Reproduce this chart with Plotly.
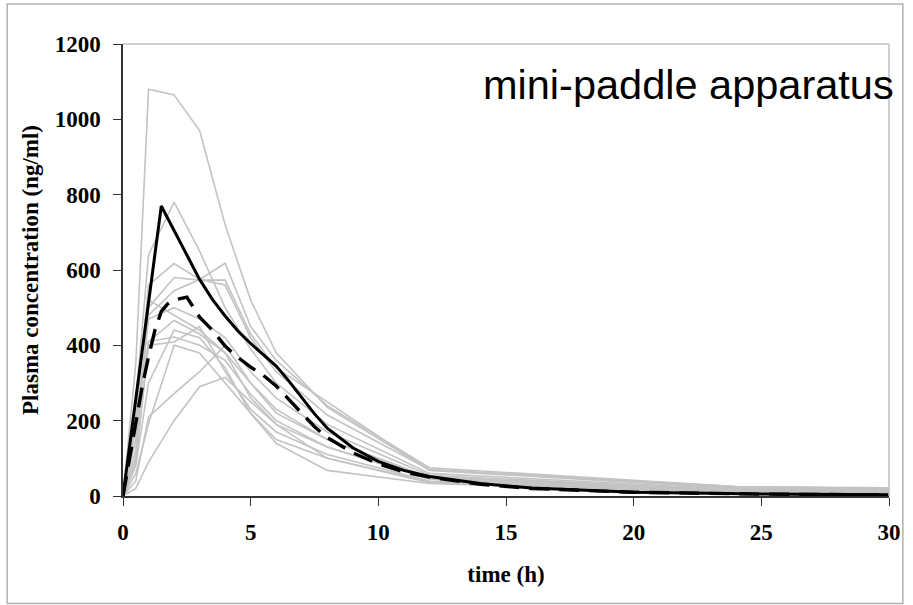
import plotly.graph_objects as go

# ---- data ----
t_ind = [0, 0.5, 1, 2, 3, 4, 5, 6, 8, 12, 24, 30]
subjects = [
    [0, 350, 1080, 1065, 970, 720, 520, 380, 235, 70, 25, 20],
    [0, 250, 640, 780, 650, 500, 390, 300, 190, 60, 18, 15],
    [0, 200, 560, 617, 575, 560, 420, 330, 215, 70, 22, 18],
    [0, 150, 480, 545, 575, 618, 450, 360, 240, 75, 25, 22],
    [0, 120, 500, 580, 573, 573, 430, 340, 250, 68, 20, 16],
    [0, 180, 470, 500, 470, 420, 330, 260, 170, 55, 15, 12],
    [0, 100, 410, 466, 430, 380, 300, 230, 150, 50, 15, 12],
    [0, 200, 410, 422, 400, 360, 270, 200, 130, 45, 12, 10],
    [0, 90, 400, 409, 450, 330, 230, 170, 110, 40, 10, 8],
    [0, 60, 192, 400, 380, 300, 220, 150, 100, 35, 10, 7],
    [0, 40, 210, 272, 330, 400, 300, 220, 150, 50, 14, 11],
    [0, 20, 90, 200, 290, 315, 250, 190, 130, 45, 12, 9],
    [0, 250, 520, 480, 440, 380, 260, 190, 100, 38, 10, 6],
    [0, 80, 300, 440, 420, 340, 219, 140, 68, 33, 8, 5],
]

t_solid = [0, 1.5, 3, 3.5, 4, 4.5, 5, 5.5, 6, 6.5, 7, 7.5, 8, 9, 10, 11, 12, 14, 16, 20, 25, 30]
c_solid = [0, 770, 575, 522, 478, 438, 405, 375, 345, 305, 260, 218, 180, 128, 92, 68, 52, 33, 21, 10, 5, 3]

t_dash = [0, 0.25, 0.5, 0.75, 1, 1.25, 1.5, 1.75, 2, 2.5, 3, 3.5, 4, 4.5, 5, 5.5, 6, 6.5, 7, 7.5, 8, 9, 10, 11, 12, 14, 16, 20, 25, 30]
c_dash = [0, 100, 190, 290, 370, 440, 490, 510, 520, 528, 475, 440, 398, 368, 342, 320, 292, 256, 218, 184, 155, 115, 85, 64, 50, 31, 20, 10, 5, 3]

x_ticks = [0, 5, 10, 15, 20, 25, 30]
y_ticks = [0, 200, 400, 600, 800, 1000, 1200]

fig = go.Figure()
for s in subjects:
    fig.add_trace(go.Scatter(x=t_ind, y=s, mode="lines",
                             line=dict(color="#c3c3c3", width=1.6),
                             showlegend=False, hoverinfo="skip"))
fig.add_trace(go.Scatter(x=t_dash, y=c_dash, mode="lines",
                         line=dict(color="black", width=3.4, dash="20px,10px"),
                         showlegend=False))
fig.add_trace(go.Scatter(x=t_solid, y=c_solid, mode="lines",
                         line=dict(color="black", width=3),
                         showlegend=False))

W, H = 913, 605
L, R, T, B = 123, 16, 44, 109
pw, ph = W - L - R, H - T - B

def px2paper_x(px):
    return (px - L) / pw

def px2paper_y(py):
    return 1 - (py - T) / ph

# outer frame
fig.add_shape(type="rect", xref="paper", yref="paper",
              x0=px2paper_x(6), x1=px2paper_x(911), y0=px2paper_y(603.5), y1=px2paper_y(4),
              line=dict(color="#b0b0b0", width=1.5))
# top and right borders of plot area (gray)
fig.add_shape(type="line", xref="paper", yref="paper", x0=0, x1=1, y0=1, y1=1,
              line=dict(color="#c0c0c0", width=1.5))
fig.add_shape(type="line", xref="paper", yref="paper", x0=1, x1=1, y0=0, y1=1,
              line=dict(color="#c0c0c0", width=1.5))

fig.add_annotation(text="mini-paddle apparatus", xref="paper", yref="paper",
                   x=px2paper_x(904), y=px2paper_y(85), xanchor="right", yanchor="middle",
                   showarrow=False,
                   font=dict(family="Liberation Sans", size=41.5, color="black"))

tickfont = dict(family="Liberation Serif", size=23, color="black", weight="bold")
titlefont = dict(family="Liberation Serif", size=23, color="black", weight="bold")

fig.update_xaxes(range=[0, 30], tickvals=x_ticks, ticktext=[str(v) for v in x_ticks],
                 showgrid=False, zeroline=False, showline=True, linecolor="#333",
                 linewidth=1.5, ticks="outside", ticklen=8, tickcolor="#333",
                 tickfont=tickfont, ticklabelstandoff=7,
                 title=dict(text="time (h)", font=titlefont, standoff=22))
fig.update_yaxes(range=[0, 1200], tickvals=y_ticks, ticktext=[str(v) for v in y_ticks],
                 showgrid=False, zeroline=False, showline=True, linecolor="#333",
                 linewidth=1.5, ticks="outside", ticklen=8, tickcolor="#333",
                 tickfont=tickfont, ticklabelstandoff=8,
                 title=dict(text="Plasma concentration (ng/ml)", font=titlefont, standoff=10))

fig.update_layout(width=W, height=H, margin=dict(l=L, r=R, t=T, b=B),
                  paper_bgcolor="white", plot_bgcolor="white")

fig.write_html("out.html")
